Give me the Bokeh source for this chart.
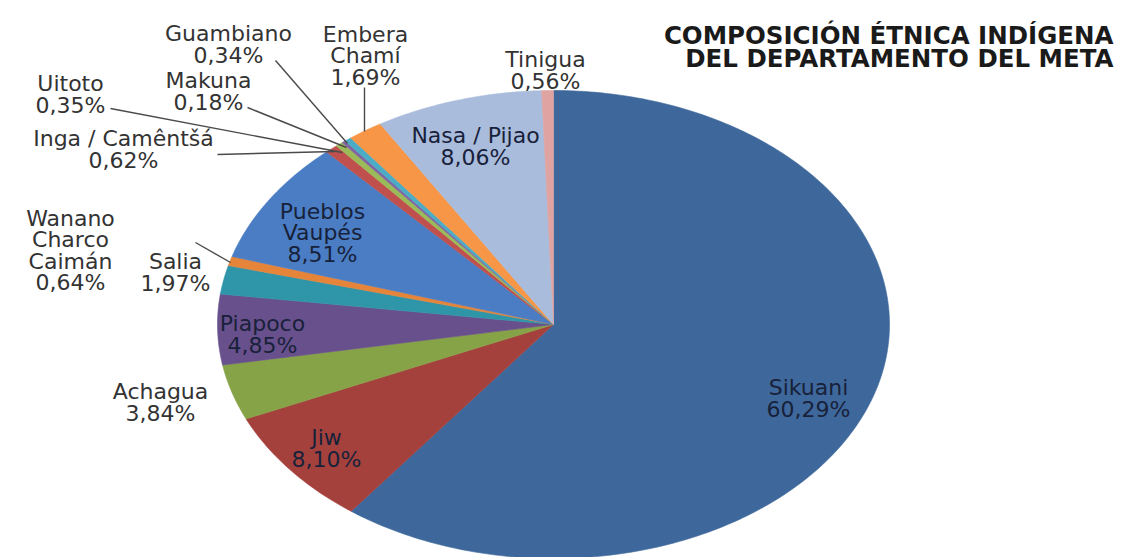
import numpy as np
from bokeh.plotting import figure
from bokeh.models import Range1d, ColumnDataSource
from bokeh.core.properties import value
from bokeh.embed import file_html
from bokeh.resources import INLINE

# ---- data (clockwise from 12 o'clock) ----
groups = ["Sikuani", "Jiw", "Achagua", "Piapoco", "Salia", "Wanano Charco Caimán",
          "Pueblos Vaupés", "Inga / Camêntšá", "Uitoto", "Makuna", "Guambiano",
          "Embera Chamí", "Nasa / Pijao", "Tinigua"]
shares = [60.29, 8.10, 3.84, 4.85, 1.97, 0.64, 8.51, 0.62, 0.35, 0.18, 0.34, 1.69, 8.06, 0.56]
label_lines = [["Sikuani", "60,29%"], ["Jiw", "8,10%"], ["Achagua", "3,84%"],
               ["Piapoco", "4,85%"], ["Salia", "1,97%"],
               ["Wanano", "Charco", "Caimán", "0,64%"], ["Pueblos", "Vaupés", "8,51%"],
               ["Inga / Camêntšá", "0,62%"], ["Uitoto", "0,35%"], ["Makuna", "0,18%"],
               ["Guambiano", "0,34%"], ["Embera", "Chamí", "1,69%"],
               ["Nasa / Pijao", "8,06%"], ["Tinigua", "0,56%"]]
title_lines = ["COMPOSICIÓN ÉTNICA INDÍGENA", "DEL DEPARTAMENTO DEL META"]

# ---- styles / layout ----
colors = ["#3E689B", "#A5413D", "#86A348", "#68508C", "#2F96AA", "#E6843A",
          "#4A7DC4", "#C0504D", "#9BBB59", "#8064A2", "#4BACC6", "#F79646",
          "#A9BCDC", "#DFA4A2"]
# label centres in screen pixels
label_pos = [(808, 398), (326, 448), (160, 402), (262, 334), (175, 272),
             (70, 250), (322, 232), (123, 149), (70, 94), (208, 91),
             (228, 44), (365, 55), (475, 146), (545, 70)]
inside = [True, True, False, True, False, False, True, False, False, False,
          False, False, True, False]
leaders = [((195, 242), (230, 262)), ((217, 154), (334, 151)), ((110, 108), (342, 152)),
           ((247, 107), (346, 147)), ((275, 60), (347, 143)), ((364, 87), (364, 131))]

W, H = 1125, 557
cx, cy, rx, ry = 553, 324, 336, 234  # pie centre and radii in screen pixels


def X(px):
    return (px - cx) / rx


def Y(py):
    return (cy - py) / ry


p = figure(width=W, height=H, output_backend="svg", toolbar_location=None,
           x_range=Range1d(X(0), X(W)), y_range=Range1d(Y(H), Y(0)),
           min_border=0, outline_line_color=None, background_fill_color="white")
p.axis.visible = False
p.grid.visible = False

# slices
total = sum(shares)
xs, ys = [], []
start = 0.0
for s in shares:
    a0 = start / total * 2 * np.pi
    a1 = (start + s) / total * 2 * np.pi
    n = max(4, int((a1 - a0) / (2 * np.pi) * 400))
    th = np.linspace(a0, a1, n)
    xs.append([0.0] + list(np.sin(th)) + [0.0])
    ys.append([0.0] + list(np.cos(th)) + [0.0])
    start += s
src = ColumnDataSource(dict(xs=xs, ys=ys, color=colors, name=groups, share=shares))
p.patches("xs", "ys", source=src, fill_color="color", line_color="color", line_width=0.6)

# leader lines
p.segment(x0=[X(a[0]) for a, b in leaders], y0=[Y(a[1]) for a, b in leaders],
          x1=[X(b[0]) for a, b in leaders], y1=[Y(b[1]) for a, b in leaders],
          line_color="#4a4a4a", line_width=1.4)

# labels
lh = 21.5
tx, ty, tt, tc = [], [], [], []
for lines, (lx, ly), ins in zip(label_lines, label_pos, inside):
    n = len(lines)
    for i, t in enumerate(lines):
        tx.append(X(lx))
        ty.append(Y(ly + (i - (n - 1) / 2) * lh))
        tt.append(t)
        tc.append("#18213a" if ins else "#333333")
p.text(x=tx, y=ty, text=tt, text_color=tc, text_font=value("DejaVu Sans"),
       text_font_size="22px", text_align="center", text_baseline="middle")

# title
p.text(x=[X(1113), X(1113)], y=[Y(35), Y(58)], text=title_lines,
       text_color="#1a1a1a", text_font=value("DejaVu Sans"), text_font_style="bold",
       text_font_size="24.5px", text_align="right", text_baseline="middle")

open("out.html", "w").write(file_html(p, INLINE))
